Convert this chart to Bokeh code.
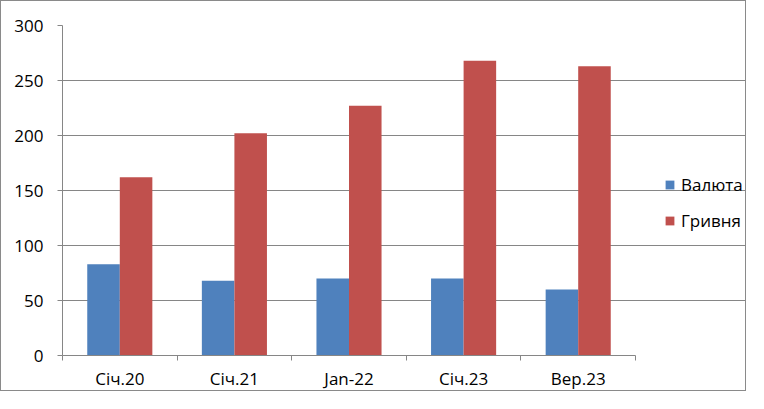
import numpy as np
from bokeh.plotting import figure
from bokeh.models import Range1d, FixedTicker, Legend, LegendItem, ColumnDataSource
from bokeh.embed import file_html
from bokeh.resources import INLINE

categories = ["Січ.20", "Січ.21", "Jan-22", "Січ.23", "Вер.23"]
valuta = [83, 68, 70, 70, 60]
hryvnia = [162, 202, 227, 268, 263]
series_names = ["Валюта", "Гривня"]
colors = ["#4F81BD", "#C0504D"]
y_ticks = [0, 50, 100, 150, 200, 250, 300]

FONT = "Open Sans"
FS = "17px"
GRAY = "#868686"

n = len(categories)
centers = np.arange(n) + 0.5
bw = 0.284

W, H = 746, 391
left, top, right, bottom = 61, 24, 1, 34
frame_w = W - left - right
cat_px = 114.6  # width of one category in pixels
x_end = frame_w / cat_px

p = figure(width=W, height=H, output_backend="svg", toolbar_location=None,
           x_range=Range1d(0, x_end), y_range=Range1d(0, 300),
           min_border_left=left, min_border_right=right, min_border_top=top, min_border_bottom=bottom)
p.styles = {"border": "1px solid #8a8a8a"}
p.outline_line_color = None
p.background_fill_color = "white"
p.border_fill_color = "white"

src = ColumnDataSource(dict(x1=centers - bw / 2, x2=centers + bw / 2, v=valuta, h=hryvnia))
r1 = p.vbar(x="x1", top="v", width=bw, source=src, fill_color=colors[0], line_color=None)
r2 = p.vbar(x="x2", top="h", width=bw, source=src, fill_color=colors[1], line_color=None)

# x axis: labels at centres, tick marks at category boundaries
p.xaxis.bounds = (0, n)
p.xaxis.ticker = FixedTicker(ticks=list(centers), minor_ticks=list(range(n + 1)))
p.xaxis.major_label_overrides = {float(c): lab for c, lab in zip(centers, categories)}
p.xaxis.major_tick_line_color = None
p.xaxis.major_tick_out = 0
p.xaxis.major_tick_in = 0
p.xaxis.minor_tick_line_color = GRAY
p.xaxis.minor_tick_out = 5
p.xaxis.minor_tick_in = 0
p.xaxis.axis_line_color = GRAY
p.xaxis.major_label_text_font = FONT
p.xaxis.major_label_text_font_size = FS
p.xaxis.major_label_text_color = "black"
p.xaxis.major_label_standoff = 6
p.xgrid.grid_line_color = None

p.yaxis.ticker = FixedTicker(ticks=y_ticks)
p.yaxis.minor_tick_line_color = None
p.yaxis.major_tick_line_color = GRAY
p.yaxis.major_tick_out = 5
p.yaxis.major_tick_in = 0
p.yaxis.axis_line_color = GRAY
p.yaxis.major_label_text_font = FONT
p.yaxis.major_label_text_font_size = FS
p.yaxis.major_label_text_color = "black"
p.yaxis.major_label_standoff = 14
p.ygrid.grid_line_color = GRAY
p.ygrid.ticker = FixedTicker(ticks=y_ticks)
p.ygrid.bounds = (0, n)

legend = Legend(items=[LegendItem(label=series_names[0], renderers=[r1]),
                       LegendItem(label=series_names[1], renderers=[r2])],
                location=(602, 123))
legend.margin = 0
legend.padding = 0
legend.glyph_width = 11
legend.glyph_height = 11
legend.label_standoff = 6
legend.spacing = 13
legend.label_text_font = FONT
legend.label_text_font_size = FS
legend.label_text_color = "black"
legend.border_line_color = None
legend.background_fill_alpha = 0
p.add_layout(legend)

open("out.html", "w").write(file_html(p, INLINE))
